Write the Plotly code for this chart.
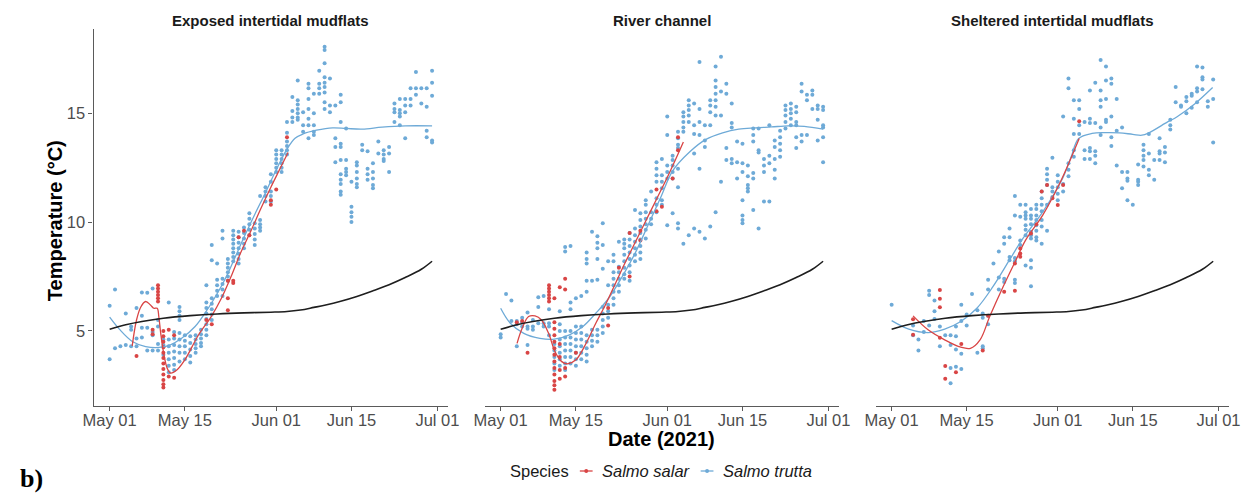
import pandas as pd
import plotly.graph_objects as go

START = pd.Timestamp("2021-05-01")

# ---------------------------------------------------------------- labels
panel_titles = ["Exposed intertidal mudflats", "River channel", "Sheltered intertidal mudflats"]
tick_days = [0, 14, 31, 45, 61]
tick_labels = ["May 01", "May 15", "Jun 01", "Jun 15", "Jul 01"]
temp_ticks = [5, 10, 15]
species = ["Salmo salar", "Salmo trutta"]

# ---------------------------------------------------------------- detections
# (day since 1 May, [temperatures in degC])
exposed_trutta = [
    (0, [6.15, 3.7]), (1, [6.9, 4.2]), (2, [4.3]), (3, [5.8, 4.35]),
    (4, [5.2, 5.05, 4.3]), (5, [6.05, 4.65, 4.3]), (6, [6.76, 5.7, 5.14, 4.7]),
    (7, [6.75, 5.15, 4.1]), (8, [6.95, 4.95, 4.8, 4.1]), (9, [5.5, 5.2, 4.4, 4.1]),
    (10, [4.6, 4.35, 3.9]), (11, [6.3, 4.6, 4.3, 4.0, 3.7, 3.4, 3.1]),
    (12, [4.95, 4.65, 4.35, 4.05, 3.75, 3.45, 3.2]),
    (13, [6.1, 5.9, 5.7, 5.5, 4.9, 4.6, 4.3, 4.0, 3.6]),
    (14, [4.8, 4.55, 4.3, 4.0, 3.7]), (15, [4.75, 4.45, 4.15, 3.85, 3.55]),
    (16, [4.8, 4.6, 4.4, 4.2, 4.0]), (17, [5.05, 4.85, 4.65, 4.45, 4.3]),
    (18, [7.1, 6.3, 6.05, 5.8, 5.55, 5.3, 5.05, 4.8]),
    (19, [8.95, 8.25, 6.5, 6.25, 6.0, 5.75, 5.5]),
    (20, [8.1, 7.35, 7.1, 6.85, 6.6]), (21, [9.6, 9.25, 7.4, 7.15, 6.9, 6.6]),
    (22, [8.3, 8.1, 7.9, 7.7, 7.5, 7.3]),
    (23, [9.6, 9.4, 9.2, 9.0, 8.8, 8.6, 8.4, 8.2]),
    (24, [9.55, 9.3, 9.05, 8.8, 8.55, 8.3, 8.1]),
    (25, [9.75, 9.5, 9.25, 9.0, 8.8]), (26, [10.4, 10.15, 9.9, 9.65, 9.4]),
    (27, [9.95, 9.7, 9.45, 9.2, 8.95]), (28, [11.2, 10.1, 9.9, 9.75, 9.6]),
    (29, [11.6, 11.4, 11.2, 10.95]), (30, [12.2, 11.85, 11.4, 11.2, 10.95]),
    (31, [13.3, 13.1, 12.9, 12.7, 12.5, 12.3]),
    (32, [13.3, 13.1, 12.9, 12.7, 12.5, 12.3]),
    (33, [14.6, 14.1, 13.7, 13.5, 13.3, 13.1]),
    (34, [15.75, 15.1, 14.8, 14.6]), (35, [16.5, 15.6, 15.4, 15.2, 15.0, 14.8, 14.7]),
    (36, [15.05, 14.45, 14.15]), (37, [16.35, 16.15, 15.65, 15.2, 14.75, 14.45, 13.85]),
    (38, [15.9, 15.0, 14.45, 14.15, 14.0]), (39, [16.95, 16.35, 16.15, 15.9]),
    (40, [18.05, 17.9, 17.3, 16.65, 16.4, 16.2, 15.95, 15.5, 15.2]),
    (41, [16.6, 15.35, 15.05]), (42, [15.35, 13.85, 13.45, 12.75]),
    (43, [15.85, 15.5, 14.6, 13.6, 13.45, 12.85, 12.2, 11.95, 11.75, 11.4, 11.25]),
    (44, [14.3, 12.85, 12.45, 12.3, 12.15]), (45, [11.85, 10.7, 10.45, 10.25, 10.0]),
    (46, [12.75, 12.6, 12.3, 12.0, 11.75, 11.6]), (47, [13.55, 13.3]),
    (48, [13.25, 12.45, 12.2, 11.95]), (49, [12.7, 12.3, 12.0, 11.7, 11.55]),
    (50, [13.7, 13.15]), (51, [13.3, 13.1, 12.9, 12.8]), (52, [13.45, 13.15, 12.3]),
    (53, [15.45, 15.2, 15.05, 14.6]), (54, [15.65, 15.15, 15.0, 14.85, 14.45]),
    (55, [15.65, 15.35, 15.05, 13.85]), (56, [16.15, 15.65, 15.35]),
    (57, [16.9, 16.15, 15.85]), (58, [16.15, 15.45]), (59, [16.15, 15.3, 14.2, 13.9]),
    (60, [16.95, 16.4, 15.8, 13.75, 13.65]),
]
exposed_salar = [
    (5, [3.85]), (8, [5.05, 4.85]), (9, [7.1, 6.95, 6.8, 6.65, 6.5, 6.35]),
    (10, [5.0, 4.75, 4.5, 4.25, 4.0, 3.75, 3.5, 3.25, 3.0, 2.75, 2.55, 2.4]),
    (11, [5.05, 2.9]), (12, [4.8, 2.85]), (18, [5.5]), (19, [5.3]),
    (22, [7.3, 6.5, 5.95]), (23, [7.3, 7.2]), (24, [9.3]), (25, [9.6]), (26, [9.4]),
    (30, [11.0, 10.8]), (31, [11.5]), (33, [13.9]),
]

river_trutta = [
    (0, [4.85, 4.7]), (1, [6.7]), (2, [6.4, 5.45]), (3, [5.45, 5.3, 4.3]),
    (4, [5.6, 5.4, 5.2]), (5, [5.85, 5.2, 5.1, 4.35]), (6, [5.5, 5.2, 5.05]),
    (7, [6.55, 6.1, 5.35]), (8, [6.6, 5.35, 5.2]), (9, [6.0, 5.35, 5.2, 4.8]),
    (10, [4.4, 4.1, 3.8, 3.5, 3.2]), (11, [5.9, 5.3, 5.0, 4.6, 4.3, 4.0, 3.7, 3.4]),
    (12, [8.85, 8.65, 5.0, 4.7, 4.4, 4.1, 3.8, 3.5, 3.2]),
    (13, [8.9, 6.3, 6.0, 5.0, 4.7, 4.4, 4.1, 3.8, 3.5]),
    (14, [6.5, 5.2, 4.9, 4.6, 4.3, 4.0, 3.7, 3.4]),
    (15, [6.6, 5.2, 4.9, 4.6, 4.3, 4.0, 3.7]),
    (16, [8.6, 8.3, 8.1, 7.3, 6.8, 4.8, 4.5, 4.2, 3.9, 3.6]),
    (17, [9.55, 7.3, 5.05, 4.8, 4.55, 4.3]),
    (18, [9.35, 9.05, 8.8, 8.3, 7.35, 5.05, 4.8, 4.5]),
    (19, [9.95, 8.95, 7.85, 6.1, 5.8, 5.5, 5.2, 4.9]),
    (20, [8.2, 7.1, 6.2, 5.9, 5.6]), (21, [8.5, 8.2, 7.7, 7.4, 7.1, 6.8, 6.5, 6.2]),
    (22, [9.1, 7.95, 7.7, 7.4, 7.1, 6.8]),
    (23, [9.2, 9.0, 8.8, 8.5, 8.2, 7.9, 7.6, 7.4]),
    (24, [9.5, 9.2, 8.9, 8.6, 8.3, 8.0, 7.7, 7.3]),
    (25, [10.55, 9.7, 9.4, 9.1, 8.8, 8.5, 8.2]),
    (26, [10.4, 10.1, 9.8, 9.5, 9.2, 8.9, 8.6, 8.3]),
    (27, [11.0, 10.8, 10.45, 10.15, 9.9, 9.65, 9.25]), (28, [11.4, 10.45, 10.15, 9.9]),
    (29, [12.75, 12.45, 12.15, 11.85, 11.1, 10.8, 10.45]),
    (30, [12.9, 12.15, 11.85, 11.55, 11.0, 10.8]),
    (31, [14.85, 14.0, 12.6, 12.3, 12.0, 9.85]),
    (32, [13.05, 12.85, 12.6, 12.3, 12.0, 10.4]),
    (33, [14.15, 13.85, 13.55, 13.4, 12.45, 11.6, 9.95, 9.7]),
    (34, [15.05, 14.85, 14.6, 14.35, 14.15, 9.0]),
    (35, [15.6, 15.35, 15.15, 14.9, 14.6, 9.4]),
    (36, [15.45, 14.45, 14.05, 13.15, 9.7]),
    (37, [17.35, 15.2, 14.6, 14.0, 12.45, 9.55]),
    (38, [14.45, 13.75, 13.45, 9.25]), (39, [15.6, 15.35, 15.05, 14.45, 9.8]),
    (40, [17.15, 16.5, 16.2, 15.9, 15.6, 15.3, 14.9, 10.45]),
    (41, [17.6, 16.0, 14.9, 11.85]), (42, [16.35, 15.9, 13.4, 12.85]),
    (43, [15.45, 14.55, 14.35, 12.9, 12.7]), (44, [13.7, 12.75, 12.0]),
    (45, [13.6, 12.7, 12.3, 11.0, 10.3, 10.1, 9.95]),
    (46, [12.6, 12.1, 11.7, 11.55, 11.4]), (47, [14.3, 14.0, 13.7, 12.25, 12.0, 10.55]),
    (48, [14.3, 13.3, 13.2, 9.7]), (49, [12.9, 12.6, 12.3, 10.95]),
    (50, [14.45, 13.05, 12.7, 10.95]), (51, [13.75, 13.45, 12.9, 12.4, 12.0]),
    (52, [14.2, 13.9, 13.6, 13.3, 13.0]), (53, [15.35, 15.15, 14.9, 14.6, 14.3]),
    (54, [15.45, 15.2, 15.0, 14.75, 14.45]), (55, [15.3, 15.05, 14.6, 14.45, 13.9, 13.4]),
    (56, [16.35, 16.0, 14.0, 13.7]), (57, [15.85, 15.6, 14.0]), (58, [16.05, 15.85, 15.2]),
    (59, [15.35, 15.2, 14.7, 13.75]), (60, [15.3, 15.15, 14.45, 14.35, 13.9, 12.75]),
]
river_salar = [
    (3, [5.4]), (4, [5.45]), (5, [4.0]), (9, [7.1, 6.95, 6.8, 6.65, 6.5, 6.35]),
    (10, [6.5, 5.4, 5.1, 4.8, 4.5, 4.2, 3.9, 3.6, 3.3, 3.0, 2.7, 2.5, 2.3]),
    (11, [7.0, 4.4, 3.8, 3.2, 2.8]), (12, [7.4, 6.9, 3.3, 2.9]), (14, [4.0]),
    (20, [6.05, 5.25]), (22, [7.9]), (24, [9.5, 7.5]), (26, [9.15, 9.6]),
    (29, [11.5, 10.5]), (30, [10.7]), (32, [12.0]), (33, [13.9, 13.3]),
]

sheltered_trutta = [
    (0, [6.2]), (4, [5.25, 4.8]), (5, [4.6, 4.1]), (6, [5.45, 4.95]),
    (7, [6.85, 6.65, 5.25]), (8, [6.4, 5.9, 5.55]), (9, [5.2, 4.3]), (10, [4.8]),
    (11, [4.8, 4.35, 3.3, 2.6]), (12, [5.2, 4.75, 4.15, 3.35]),
    (13, [6.2, 5.45, 3.95, 3.25]), (14, [5.75, 5.25]), (15, [6.7]), (16, [5.95, 4.0]),
    (17, [5.8, 5.6, 4.3, 4.2]), (18, [7.35, 6.9, 5.7, 5.3]), (19, [8.1]),
    (20, [8.65, 7.45, 6.9]), (21, [9.3, 9.0, 7.4, 7.25]), (22, [9.7, 9.3, 8.4, 8.25]),
    (23, [11.2, 10.3, 8.35, 8.2, 7.35, 7.2]), (24, [10.8, 10.25, 9.15, 8.95]),
    (25, [10.8, 10.45, 10.3, 10.15, 9.85, 9.65, 9.4, 8.0]),
    (26, [10.6, 10.3, 10.15, 9.9, 9.55, 9.4, 9.25, 8.25, 7.9, 7.05]),
    (27, [10.8, 10.6, 10.3, 10.1, 9.85, 9.6, 9.3, 9.15]),
    (28, [11.4, 11.1, 10.8, 10.5, 10.1, 9.8, 9.0]),
    (29, [12.45, 12.2, 11.95, 11.7, 10.8, 9.6]), (30, [12.95, 11.6, 11.4, 11.15]),
    (31, [12.15, 11.85, 11.6, 11.3, 11.0]), (32, [14.85, 11.75, 11.4]),
    (33, [16.6, 16.15, 12.7, 12.4, 12.1]), (34, [15.6, 14.75, 14.05, 13.3, 13.0]),
    (35, [15.6, 15.2, 14.45, 14.05]), (36, [14.6, 13.3, 12.9]),
    (37, [16.05, 14.75, 14.55, 13.4, 13.25, 12.9]), (38, [16.4, 14.55, 13.25, 13.05, 12.7]),
    (39, [17.45, 16.05, 15.6, 15.3, 14.35, 14.0]), (40, [17.15, 16.5, 15.65, 14.7, 14.6]),
    (41, [16.6, 16.35, 14.85, 13.9, 13.5]), (42, [15.65, 14.2, 12.6]),
    (43, [14.35, 12.3, 11.55]), (44, [12.3, 12.0, 11.9, 11.0]), (45, [10.8]),
    (46, [12.65, 11.95, 11.85, 11.7]), (47, [13.55, 13.3, 13.05, 12.85, 12.55]),
    (48, [14.05, 13.15, 12.4, 12.15]), (49, [12.85, 11.95]),
    (50, [13.85, 13.25, 13.15, 12.85]), (51, [13.45, 13.2, 12.75]),
    (52, [14.7, 14.45, 14.25]), (53, [16.2, 15.5]), (54, [15.35, 15.3]),
    (55, [15.75, 15.55, 15.0]), (56, [15.9, 15.8, 15.25]), (57, [17.15, 16.15, 16.0, 15.5]),
    (58, [17.1, 16.65, 16.55, 16.1]), (59, [15.55, 15.3]), (60, [16.55, 15.65, 13.65]),
]
sheltered_salar = [
    (4, [5.54, 4.82]), (9, [6.88, 6.48, 6.09, 4.69]), (10, [3.39, 2.8]), (12, [3.1]),
    (13, [4.4]), (17, [4.1]), (18, [5.7]), (21, [6.8]), (23, [8.1, 6.85]),
    (24, [8.79, 8.56, 8.41]), (26, [9.48]), (27, [9.9]), (28, [11.4]), (29, [11.7]),
    (30, [11.1]), (31, [10.78]), (32, [11.7]), (35, [14.63]),
]

# ---------------------------------------------------------------- smoothed trends
exposed_trutta_fit_days = [0, 1.8, 4.3, 6.7, 9.2, 11.3, 13.4, 15.9, 17.7, 19.5, 21.4, 23.2,
                           25, 27, 29, 31, 33, 34.5, 36, 38.5, 41.5, 44, 47, 50.7, 55, 60]
exposed_trutta_fit_temp = [5.63, 5.08, 4.5, 4.28, 4.24, 4.36, 4.66, 5.2, 5.8, 6.5, 7.34, 8.3,
                           9.3, 10.35, 11.35, 12.4, 13.35, 13.85, 14.05, 14.22, 14.33, 14.3,
                           14.27, 14.36, 14.42, 14.42]
exposed_salar_fit_days = [4.2, 5.0, 5.8, 6.7, 7.6, 8.2, 8.85, 9.15, 9.5, 10.1, 10.7, 11.3, 12.5,
                          14, 16.5, 18.9, 20.8, 22.6, 24.4, 26.3, 28.1, 30, 31.6, 33.2]
exposed_salar_fit_temp = [4.31, 5.5, 6.1, 6.35, 6.19, 6.04, 6.04, 5.66, 4.9, 3.9, 3.29, 3.06,
                          3.2, 3.67, 4.8, 5.66, 6.5, 7.5, 8.6, 9.6, 10.6, 11.6, 12.4, 13.2]

river_trutta_fit_days = [0, 1.8, 4.3, 7.3, 10, 12.8, 15.3, 17.7, 20.1, 22.6, 25, 27.5, 29.9,
                         32, 35.2, 38.2, 41.3, 44.3, 47.4, 50.4, 53.5, 56.5, 60]
river_trutta_fit_temp = [6.04, 5.35, 4.89, 4.66, 4.62, 4.82, 5.2, 5.81, 6.5, 7.49, 8.56, 9.9,
                         11.2, 12.35, 13.23, 13.8, 14.1, 14.27, 14.33, 14.37, 14.42, 14.4, 14.27]
river_salar_fit_days = [3.05, 4, 5.2, 6.4, 7.6, 8.9, 10.1, 11.3, 12.5, 14, 15.9, 17.7, 19.5,
                        21.4, 23.2, 25, 27, 29, 31, 32.5, 34]
river_salar_fit_temp = [4.43, 5.12, 5.66, 5.69, 5.5, 4.9, 4.05, 3.6, 3.49, 3.67, 4.43, 5.35,
                        6.2, 7.2, 8.15, 9.05, 10.05, 11.05, 12.05, 12.85, 13.68]

sheltered_trutta_fit_days = [0, 3.2, 6.8, 9.9, 12.9, 15.9, 18.9, 22, 24.5, 28.2, 31.9, 33.5,
                             34.9, 37.4, 39.8, 42.5, 45, 46.7, 48, 51.5, 53.2, 56.6, 59.9]
sheltered_trutta_fit_temp = [5.47, 5.08, 4.92, 5.08, 5.43, 6.04, 7.03, 8.26, 9.25, 10.47, 12.0,
                             13.0, 13.84, 14.07, 14.11, 14.1, 14.03, 13.99, 14.1, 14.6, 14.83,
                             15.44, 16.18]
sheltered_salar_fit_days = [4, 6.8, 9.9, 12.9, 14.7, 16.5, 18.3, 20.8, 23.2, 25.0, 28.2, 31.5, 35]
sheltered_salar_fit_temp = [5.69, 5.05, 4.59, 4.25, 4.2, 4.59, 5.66, 7.03, 8.26, 9.17, 10.32,
                            11.85, 13.84]

# reference temperature curve shown in every panel
baseline_days = [0, 3, 6, 10, 15, 20, 25, 30, 33, 35.5, 38, 40, 43, 46, 49, 52, 55, 58, 60]
baseline_temp = [5.08, 5.28, 5.43, 5.58, 5.7, 5.78, 5.83, 5.86, 5.89, 5.96, 6.08, 6.18, 6.36,
                 6.58, 6.84, 7.12, 7.45, 7.83, 8.2]

# ---------------------------------------------------------------- styling
W, H = 1254, 493
FONT = "Liberation Sans, Arial, sans-serif"
RED = "#D94545"
BLUE = "#6EAAD7"
AXIS = "#5a5a5a"
TICK_TEXT = "#4d4d4d"
panel_px = [(84, 445), (482, 843), (880, 1240)]
plot_top, plot_bottom = 29, 406


def px_x(px):
    return px / W


def px_y(py):
    return 1 - py / H


def to_dates(days):
    return [START + pd.Timedelta(days=float(d)) for d in days]


def flatten(obs):
    days, temps = [], []
    for day, values in obs:
        for t in values:
            days.append(day)
            temps.append(t)
    return to_dates(days), temps


panels = [
    (exposed_trutta, exposed_salar,
     (exposed_trutta_fit_days, exposed_trutta_fit_temp),
     (exposed_salar_fit_days, exposed_salar_fit_temp)),
    (river_trutta, river_salar,
     (river_trutta_fit_days, river_trutta_fit_temp),
     (river_salar_fit_days, river_salar_fit_temp)),
    (sheltered_trutta, sheltered_salar,
     (sheltered_trutta_fit_days, sheltered_trutta_fit_temp),
     (sheltered_salar_fit_days, sheltered_salar_fit_temp)),
]

fig = go.Figure()
for i, (trutta, salar, trutta_fit, salar_fit) in enumerate(panels):
    xa = "x" if i == 0 else f"x{i + 1}"
    for obs, colour in ((trutta, BLUE), (salar, RED)):
        xs, ys = flatten(obs)
        fig.add_trace(go.Scatter(x=xs, y=ys, xaxis=xa, yaxis="y", mode="markers",
                                 marker=dict(size=4, color=colour, line=dict(width=0)),
                                 hoverinfo="skip"))
    for (fd, ft), colour in ((trutta_fit, BLUE), (salar_fit, RED)):
        fig.add_trace(go.Scatter(x=to_dates(fd), y=ft, xaxis=xa, yaxis="y", mode="lines",
                                 line=dict(color=colour, width=1.3, shape="spline"),
                                 hoverinfo="skip"))
    fig.add_trace(go.Scatter(x=to_dates(baseline_days), y=baseline_temp, xaxis=xa, yaxis="y",
                             mode="lines", line=dict(color="#1e1e1e", width=1.6, shape="spline"),
                             hoverinfo="skip"))

x_range = [START - pd.Timedelta(days=3), START + pd.Timedelta(days=63)]
layout = dict(
    width=W, height=H, margin=dict(l=0, r=0, t=0, b=0),
    paper_bgcolor="white", plot_bgcolor="white", showlegend=False,
    font=dict(family=FONT),
    yaxis=dict(domain=[px_y(plot_bottom), px_y(plot_top)], range=[1.55, 18.87],
               tickvals=temp_ticks, ticktext=[str(t) for t in temp_ticks],
               showline=True, linecolor=AXIS, linewidth=1.1, ticks="outside", ticklen=4,
               tickcolor=AXIS, tickwidth=1.1, showgrid=False, zeroline=False, anchor="x",
               tickfont=dict(size=16.5, color=TICK_TEXT, family=FONT)),
)
for i, (l, r) in enumerate(panel_px):
    key = "xaxis" if i == 0 else f"xaxis{i + 1}"
    layout[key] = dict(domain=[px_x(l), px_x(r)], type="date", range=x_range,
                       tickvals=to_dates(tick_days), ticktext=tick_labels,
                       showline=True, linecolor=AXIS, linewidth=1.1, ticks="outside",
                       ticklen=4, tickcolor=AXIS, tickwidth=1.1, showgrid=False,
                       zeroline=False, anchor="y", ticklabelstandoff=-5,
                       tickfont=dict(size=16.5, color=TICK_TEXT, family=FONT))
fig.update_layout(**layout)

annotations = []
for (l, r), title in zip(panel_px, panel_titles):
    annotations.append(dict(x=px_x((l + r) / 2), y=px_y(20), xref="paper", yref="paper",
                            text=f"<b>{title}</b>", showarrow=False, xanchor="center",
                            yanchor="middle", font=dict(size=15, color="#1a1a1a", family=FONT)))
annotations.append(dict(x=px_x(45), y=px_y(221), xref="paper", yref="paper",
                        text="<b>Temperature (°C)</b>", textangle=-90, showarrow=False,
                        xanchor="center", yanchor="middle",
                        font=dict(size=20, color="black", family=FONT)))
annotations.append(dict(x=px_x(662), y=px_y(439), xref="paper", yref="paper",
                        text="<b>Date (2021)</b>", showarrow=False, xanchor="center",
                        yanchor="middle", font=dict(size=20, color="black", family=FONT)))
annotations.append(dict(x=px_x(21), y=px_y(478), xref="paper", yref="paper",
                        text="<b>b)</b>", showarrow=False, xanchor="center", yanchor="middle",
                        font=dict(size=26, color="black",
                                  family="Liberation Serif, Times New Roman, serif")))

# legend
legend_y = 471
annotations.append(dict(x=px_x(506), y=px_y(legend_y), xref="paper", yref="paper",
                        text="Species", showarrow=False, xanchor="left", yanchor="middle",
                        font=dict(size=16.5, color="#1a1a1a", family=FONT)))
shapes = []
for (key_l, text_x), name, colour in zip([(579, 600), (702, 723)], species, [RED, BLUE]):
    shapes.append(dict(type="line", xref="paper", yref="paper",
                       x0=px_x(key_l), x1=px_x(key_l + 13), y0=px_y(legend_y), y1=px_y(legend_y),
                       line=dict(color=colour, width=1.3)))
    c = key_l + 6.5
    shapes.append(dict(type="circle", xref="paper", yref="paper",
                       x0=px_x(c - 2), x1=px_x(c + 2), y0=px_y(legend_y + 2), y1=px_y(legend_y - 2),
                       fillcolor=colour, line=dict(width=0)))
    annotations.append(dict(x=px_x(text_x), y=px_y(legend_y), xref="paper", yref="paper",
                            text=f"<i>{name}</i>", showarrow=False, xanchor="left",
                            yanchor="middle", font=dict(size=16.5, color="#1a1a1a", family=FONT)))

fig.update_layout(annotations=annotations, shapes=shapes)
fig.write_html("out.html")
